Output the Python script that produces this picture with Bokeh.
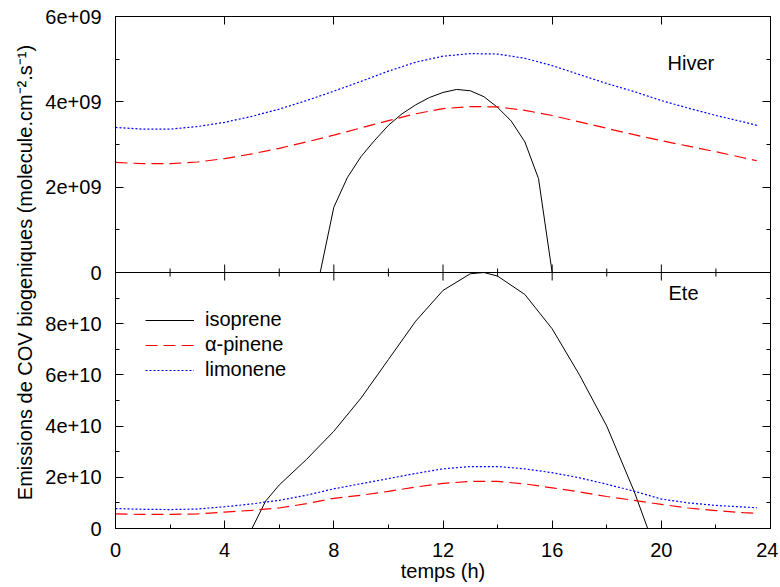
import math
from bokeh.plotting import figure
from bokeh.models import Range1d, LinearAxis, FixedTicker, Label, Legend, LegendItem, Span
from bokeh.embed import file_html
from bokeh.resources import INLINE

# ---------------- data ----------------
heures = [0, 1, 2, 3, 4, 5, 6, 7, 8, 9, 10, 11, 12, 13, 14, 15, 16, 17, 18, 19, 20, 21, 22, 23, 23.5]

hiver_limonene = [3.40e9, 3.36e9, 3.36e9, 3.42e9, 3.52e9, 3.66e9, 3.83e9, 4.03e9, 4.25e9, 4.48e9,
                  4.72e9, 4.93e9, 5.07e9, 5.13e9, 5.12e9, 5.02e9, 4.85e9, 4.64e9, 4.43e9, 4.24e9,
                  4.03e9, 3.85e9, 3.68e9, 3.53e9, 3.45e9]
hiver_pinene = [2.58e9, 2.55e9, 2.55e9, 2.59e9, 2.67e9, 2.78e9, 2.91e9, 3.06e9, 3.22e9, 3.39e9,
                3.56e9, 3.72e9, 3.84e9, 3.89e9, 3.88e9, 3.80e9, 3.68e9, 3.53e9, 3.38e9, 3.23e9,
                3.09e9, 2.96e9, 2.83e9, 2.69e9, 2.62e9]
hiver_isoprene_t = [7.5, 8, 8.5, 9, 9.5, 10, 10.5, 11, 11.5, 12, 12.5, 13, 13.5, 14, 14.5, 15, 15.5, 16]
hiver_isoprene = [0, 1.53e9, 2.23e9, 2.72e9, 3.10e9, 3.45e9, 3.72e9, 3.93e9, 4.10e9, 4.22e9,
                  4.29e9, 4.26e9, 4.12e9, 3.87e9, 3.55e9, 3.06e9, 2.20e9, 0]

ete_limonene = [0.78e10, 0.75e10, 0.74e10, 0.76e10, 0.85e10, 0.96e10, 1.10e10, 1.30e10, 1.55e10, 1.75e10,
                1.95e10, 2.15e10, 2.33e10, 2.42e10, 2.42e10, 2.33e10, 2.18e10, 1.98e10, 1.73e10, 1.46e10,
                1.15e10, 1.00e10, 0.90e10, 0.84e10, 0.81e10]
ete_pinene = [0.57e10, 0.55e10, 0.55e10, 0.57e10, 0.64e10, 0.71e10, 0.80e10, 0.97e10, 1.18e10, 1.30e10,
              1.45e10, 1.62e10, 1.76e10, 1.84e10, 1.84e10, 1.74e10, 1.59e10, 1.43e10, 1.25e10, 1.10e10,
              0.94e10, 0.80e10, 0.70e10, 0.62e10, 0.59e10]
ete_isoprene_t = [5, 5.5, 6, 7, 8, 9, 10, 11, 12, 13, 13.5, 14, 15, 16, 17, 18, 19, 19.5]
ete_isoprene = [0, 1.07e10, 1.70e10, 2.70e10, 3.80e10, 5.10e10, 6.60e10, 8.10e10, 9.30e10, 9.95e10,
                1.00e11, 9.86e10, 9.14e10, 7.80e10, 6.00e10, 4.00e10, 1.46e10, 0]

x_ticks = [0, 4, 8, 12, 16, 20, 24]
x_minor = [2, 6, 10, 14, 18, 22]
x_labels = ["0", "4", "8", "12", "16", "20", "24"]

hiver_ticks = [0, 2e9, 4e9, 6e9]
hiver_minor = [1e9, 3e9, 5e9]
hiver_labels = ["0", "2e+09", "4e+09", "6e+09"]

ete_ticks = [0, 2e10, 4e10, 6e10, 8e10]
ete_minor = [1e10, 3e10, 5e10, 7e10, 9e10]
ete_labels = ["0", "2e+10", "4e+10", "6e+10", "8e+10"]
ete_max = 1e11   # top of the "Ete" panel (shared border with "Hiver")
hiver_max = 6e9

series_names = ["isoprene", "α-pinene", "limonene"]
y_title = "Emissions de COV biogeniques (molecule.cm⁻².s⁻¹)"
x_title = "temps (h)"

# ---------------- style ----------------
FONT = "Liberation Sans"
FS = "20px"
W, H = 778, 584
C_ISO, C_PIN, C_LIM = "black", "#ff0000", "#0000ff"
DASH_PIN, DASH_LIM = "12 6", "2 2"

# Two stacked panels in one frame: "Ete" uses the lower half of the main range,
# "Hiver" uses the upper half through an extra range.
ete_range = Range1d(0, 2 * ete_max)
hiver_range = Range1d(-hiver_max, hiver_max)


def hiver_to_main(v):
    f = (v - hiver_range.start) / (hiver_range.end - hiver_range.start)
    return ete_range.start + f * (ete_range.end - ete_range.start)


y_ticks = ete_ticks + [hiver_to_main(v) for v in hiver_ticks]
y_minor = ete_minor + [hiver_to_main(v) for v in hiver_minor]
y_labels = ete_labels + hiver_labels


def make_axis(ticks, minor, labels=None):
    ax = LinearAxis()
    ax.ticker = FixedTicker(ticks=ticks, minor_ticks=minor)
    ax.major_tick_in = 8
    ax.major_tick_out = 0
    ax.minor_tick_in = 4
    ax.minor_tick_out = 0
    ax.axis_line_color = "black"
    ax.major_tick_line_color = "black"
    ax.minor_tick_line_color = "black"
    if labels is None:
        ax.major_label_text_font_size = "0px"
        ax.major_label_standoff = 0
        ax.major_label_text_color = None
    else:
        ax.major_label_overrides = dict(zip(ticks, labels))
        ax.major_label_text_font = FONT
        ax.major_label_text_font_size = FS
        ax.major_label_text_color = "black"
    return ax


p = figure(width=W, height=H, x_range=Range1d(0, 24), y_range=ete_range,
           output_backend="svg", toolbar_location=None,
           x_axis_location=None, y_axis_location=None,
           min_border_left=115, min_border_right=8, min_border_top=16, min_border_bottom=56)
p.extra_y_ranges = {"hiver": hiver_range}
p.grid.visible = False
p.outline_line_color = "black"

ax_left = make_axis(y_ticks, y_minor, y_labels)
ax_left.major_label_standoff = 14
ax_left.axis_label = y_title
ax_left.axis_label_text_font = FONT
ax_left.axis_label_text_font_size = FS
ax_left.axis_label_text_font_style = "normal"
ax_left.axis_label_text_color = "black"
ax_left.axis_label_standoff = 6
p.add_layout(ax_left, "left")

ax_below = make_axis(x_ticks, x_minor, x_labels)
ax_below.major_label_standoff = 14
ax_below.axis_label = x_title
ax_below.axis_label_text_font = FONT
ax_below.axis_label_text_font_size = FS
ax_below.axis_label_text_font_style = "normal"
ax_below.axis_label_text_color = "black"
ax_below.axis_label_standoff = 0
p.add_layout(ax_below, "below")

p.add_layout(make_axis(x_ticks, []), "above")
p.add_layout(make_axis(y_ticks + [ete_max], y_minor), "right")

# shared border between the two panels, with ticks on both sides
p.add_layout(Span(location=ete_max, dimension="width", line_color="black", line_width=1))
p.scatter(x_ticks[1:-1], [ete_max] * (len(x_ticks) - 2), marker="dash", angle=math.pi / 2,
          size=16, line_color="black", line_width=1)
p.scatter(x_minor, [ete_max] * len(x_minor), marker="dash", angle=math.pi / 2,
          size=8, line_color="black", line_width=1)

# Ete (summer) panel
r_iso = p.line(ete_isoprene_t, ete_isoprene, line_color=C_ISO, line_width=1)
r_pin = p.line(heures, ete_pinene, line_color=C_PIN, line_width=1.2, line_dash=DASH_PIN)
r_lim = p.line(heures, ete_limonene, line_color=C_LIM, line_width=1.2, line_dash=DASH_LIM)

# Hiver (winter) panel
p.line(hiver_isoprene_t, hiver_isoprene, line_color=C_ISO, line_width=1, y_range_name="hiver")
p.line(heures, hiver_pinene, line_color=C_PIN, line_width=1.2, line_dash=DASH_PIN, y_range_name="hiver")
p.line(heures, hiver_limonene, line_color=C_LIM, line_width=1.2, line_dash=DASH_LIM, y_range_name="hiver")

legend = Legend(items=[LegendItem(label=series_names[0], renderers=[r_iso]),
                       LegendItem(label=series_names[1], renderers=[r_pin]),
                       LegendItem(label=series_names[2], renderers=[r_lim])],
                location=(30, 147), border_line_color=None, background_fill_alpha=0,
                label_text_font=FONT, label_text_font_size=FS, label_text_color="black",
                glyph_width=49, glyph_height=20, label_height=20, spacing=2,
                padding=0, margin=0, label_standoff=11)
p.add_layout(legend)

p.add_layout(Label(x=552, y=466, x_units="screen", y_units="screen", text="Hiver",
                   text_align="left", text_baseline="middle", text_color="black",
                   text_font=FONT, text_font_size=FS))
p.add_layout(Label(x=553, y=236, x_units="screen", y_units="screen", text="Ete",
                   text_align="left", text_baseline="middle", text_color="black",
                   text_font=FONT, text_font_size=FS))

open("out.html", "w").write(file_html(p, INLINE))
